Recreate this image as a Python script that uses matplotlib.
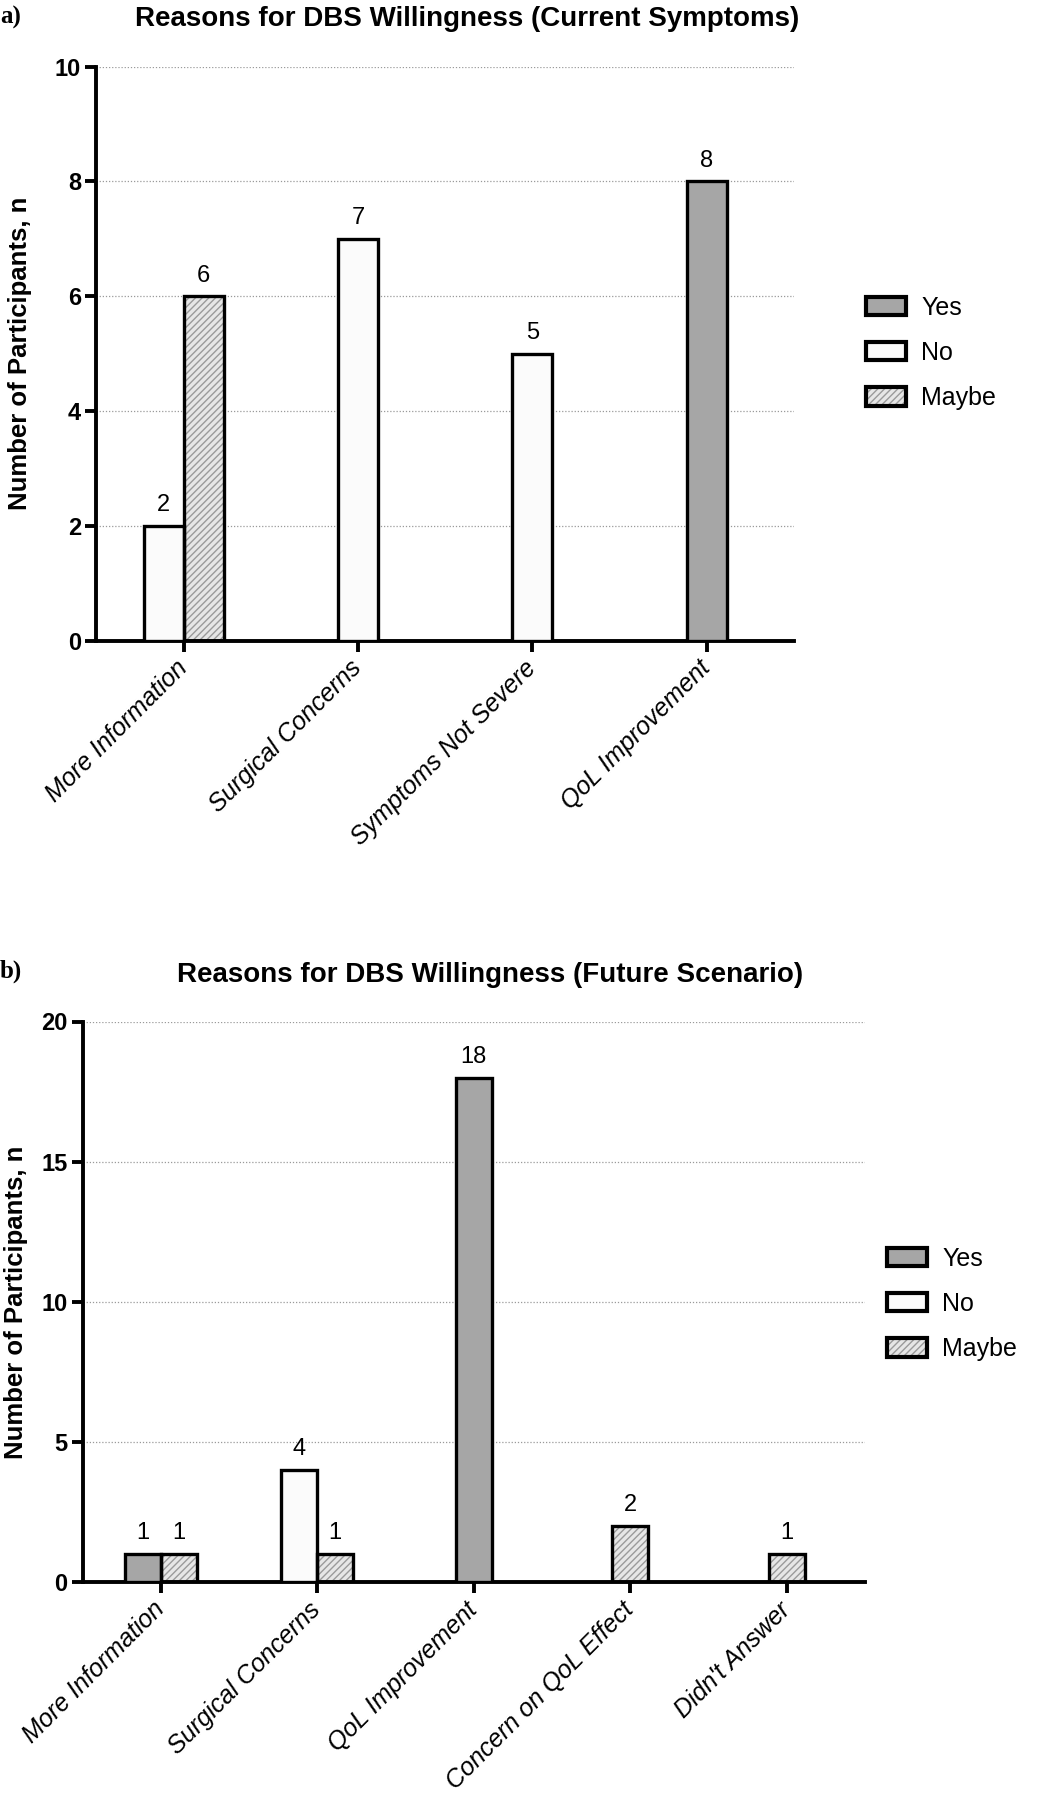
import matplotlib
matplotlib.use("Agg")
import matplotlib.pyplot as plt
import numpy as np

# --- data ---
series = ["Yes", "No", "Maybe"]

cats_a = ["More Information", "Surgical Concerns", "Symptoms Not Severe", "QoL Improvement"]
yes_a = [0, 0, 0, 8]
no_a = [2, 7, 5, 0]
maybe_a = [6, 0, 0, 0]

cats_b = ["More Information", "Surgical Concerns", "QoL Improvement",
          "Concern on QoL Effect", "Didn't Answer"]
yes_b = [1, 0, 18, 0, 0]
no_b = [0, 4, 0, 0, 0]
maybe_b = [1, 1, 0, 2, 1]

yticks_a = [0, 2, 4, 6, 8, 10]
yticks_b = [0, 5, 10, 15, 20]

# --- styles ---
fills = {"Yes": "#a6a6a6", "No": "#fbfbfb", "Maybe": "#e6e6e6"}
HATCH_COLOR = "#9a9a9a"
EDGE_LW = 2.4
BAR_W = 0.23

SANS = ["Liberation Sans", "DejaVu Sans"]
NARROW = ["Liberation Sans Narrow", "Liberation Sans", "DejaVu Sans"]

plt.rcParams["font.family"] = SANS
plt.rcParams["hatch.linewidth"] = 1.0
plt.rcParams["hatch.color"] = HATCH_COLOR


def draw_bar(ax, x, h, name):
    if name == "Maybe":
        ax.bar(x, h, BAR_W, color=fills[name], hatch="/////",
               edgecolor=HATCH_COLOR, linewidth=0, zorder=2)
        ax.bar(x, h, BAR_W, facecolor="none", edgecolor="black",
               linewidth=EDGE_LW, zorder=3)
    else:
        ax.bar(x, h, BAR_W, color=fills[name], edgecolor="black",
               linewidth=EDGE_LW, zorder=3)
    ax.annotate(str(h), (x, h), xytext=(0, 7), textcoords="offset points",
                ha="center", va="bottom", fontsize=17)


def panel(ax, cats, values, yticks):
    n = len(cats)
    for i in range(n):
        present = [(s, v[i]) for s, v in zip(series, values) if v[i] > 0]
        m = len(present)
        for k, (s, h) in enumerate(present):
            draw_bar(ax, i + (k - (m - 1) / 2) * BAR_W, h, s)

    ax.set_xlim(-0.5, n - 0.5)
    ax.set_ylim(yticks[0], yticks[-1])
    ax.set_yticks(yticks)
    ax.set_xticks(range(n))
    ax.set_xticklabels(cats, rotation=45, ha="right", va="center",
                       rotation_mode="anchor", fontsize=18, style="italic")
    for lab in ax.get_yticklabels():
        lab.set_family(NARROW)
        lab.set_fontweight("bold")
        lab.set_fontsize(17)

    for side in ["top", "right"]:
        ax.spines[side].set_visible(False)
    for side in ["left", "bottom"]:
        ax.spines[side].set_linewidth(2.8)
    ax.tick_params(axis="both", width=2.8, length=8, color="black")
    ax.tick_params(axis="x", pad=9)
    ax.tick_params(axis="y", pad=3)

    ax.yaxis.grid(True, linestyle=(0, (1, 1.5)), color="#9a9a9a", linewidth=0.9)
    ax.set_axisbelow(True)
    ax.set_ylabel("Number of Participants, n", fontsize=18.5, fontweight="bold")


def legend_handles():
    handles = []
    for s in series:
        if s == "Maybe":
            back = plt.Rectangle((0, 0), 1, 1, facecolor=fills[s], hatch="/////",
                                 edgecolor=HATCH_COLOR, linewidth=0)
            front = plt.Rectangle((0, 0), 1, 1, facecolor="none",
                                  edgecolor="black", linewidth=EDGE_LW + 0.6)
            handles.append((back, front))
        else:
            handles.append(plt.Rectangle((0, 0), 1, 1, facecolor=fills[s],
                                         edgecolor="black", linewidth=EDGE_LW + 0.6))
    return handles


fig = plt.figure(figsize=(10.5, 18), dpi=100)

ax_a = fig.add_axes([0.0919, 0.644, 0.664, 0.319])
panel(ax_a, cats_a, [yes_a, no_a, maybe_a], yticks_a)
ax_a.yaxis.set_label_coords(-0.092, 0.5)

ax_b = fig.add_axes([0.0786, 0.121, 0.745, 0.3115])
panel(ax_b, cats_b, [yes_b, no_b, maybe_b], yticks_b)
ax_b.yaxis.set_label_coords(-0.070, 0.5)

# legends
for anchor in [(866 / 1050, 1 - 353 / 1800), (887 / 1050, 1 - 1304 / 1800)]:
    fig.legend(legend_handles(), series, loc="center left", bbox_to_anchor=anchor,
               bbox_transform=fig.transFigure, frameon=False, fontsize=18,
               handlelength=1.6, handleheight=0.75, labelspacing=0.85,
               handletextpad=0.6, borderpad=0, borderaxespad=0)

# titles and panel letters
fig.text(467 / 1050, 1 - 19 / 1800, "Reasons for DBS Willingness (Current Symptoms)",
         ha="center", va="center", fontsize=20, fontweight="bold", family=NARROW)
fig.text(490 / 1050, 1 - 975 / 1800, "Reasons for DBS Willingness (Future Scenario)",
         ha="center", va="center", fontsize=20, fontweight="bold", family=NARROW)
fig.text(0.0, 1 - 17 / 1800, "a)", ha="left", va="center", fontsize=18,
         fontweight="bold", family=["Liberation Serif", "DejaVu Serif"])
fig.text(0.0, 1 - 971 / 1800, "b)", ha="left", va="center", fontsize=18,
         fontweight="bold", family=["Liberation Serif", "DejaVu Serif"])

fig.savefig("out.png", dpi=100)
